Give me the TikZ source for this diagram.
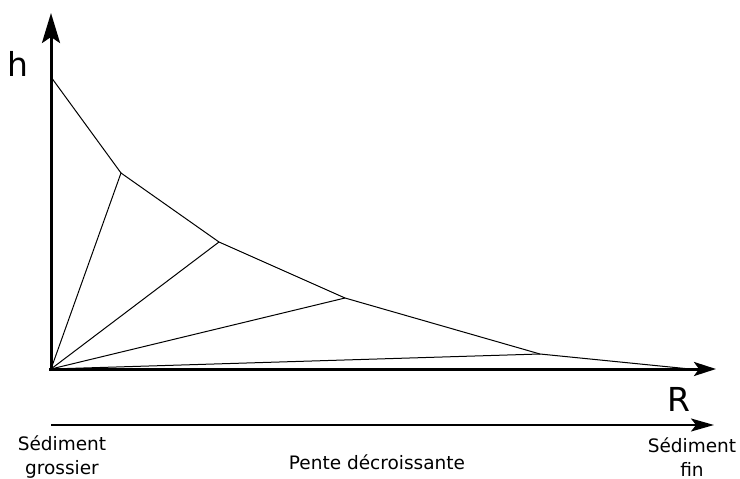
\documentclass[tikz,border=0pt]{standalone}
\usepackage{fontspec}
\setmainfont{DejaVu Sans}
\usetikzlibrary{arrows.meta}
\begin{document}
\begin{tikzpicture}[x=1pt,y=-1pt,
  axis/.style={line width=3pt},
  thin line/.style={line width=1pt, line join=round},
  lbl/.style={font=\fontsize{18.5}{24}\selectfont, align=center, inner sep=0pt},
  big/.style={font=\fontsize{33}{38}\selectfont, inner sep=0pt}]
\useasboundingbox (0,0) rectangle (740,479);
\coordinate (O) at (51,369);
\coordinate (ytop) at (51,13);
\coordinate (xend) at (716,369);
\coordinate (p0) at (51,77);
\coordinate (p1) at (121,173);
\coordinate (p2) at (219,242);
\coordinate (p3) at (345,298);
\coordinate (p4) at (540,354);
\coordinate (p5) at (690,369);
\coordinate (b0) at (51,425);
\coordinate (b1) at (714,425);
\draw[thin line] (p0) -- (p1) -- (p2) -- (p3) -- (p4) -- (p5);
\foreach \p in {p1,p2,p3,p4,p5} \draw[thin line] (O) -- (\p);
\draw[axis, -{Stealth[length=30pt,width=18pt,inset=6pt]}] (51,371) -- (ytop);
\draw[axis, -{Stealth[length=22pt,width=14pt,inset=5pt]}] (49,369) -- (xend);
\draw[line width=2pt, -{Stealth[length=23pt,width=13pt,inset=5pt]}] (b0) -- (b1);
\node[big] (h) at (18,64) {h};
\node[big] (R) at (679,399) {R};
\node[lbl] (sg) at (62,457) {Sédiment\\grossier};
\node[lbl] (pd) at (377,462) {Pente décroissante};
\node[lbl] (sf) at (692,457) {Sédiment\\fin};
\end{tikzpicture}
\end{document}
